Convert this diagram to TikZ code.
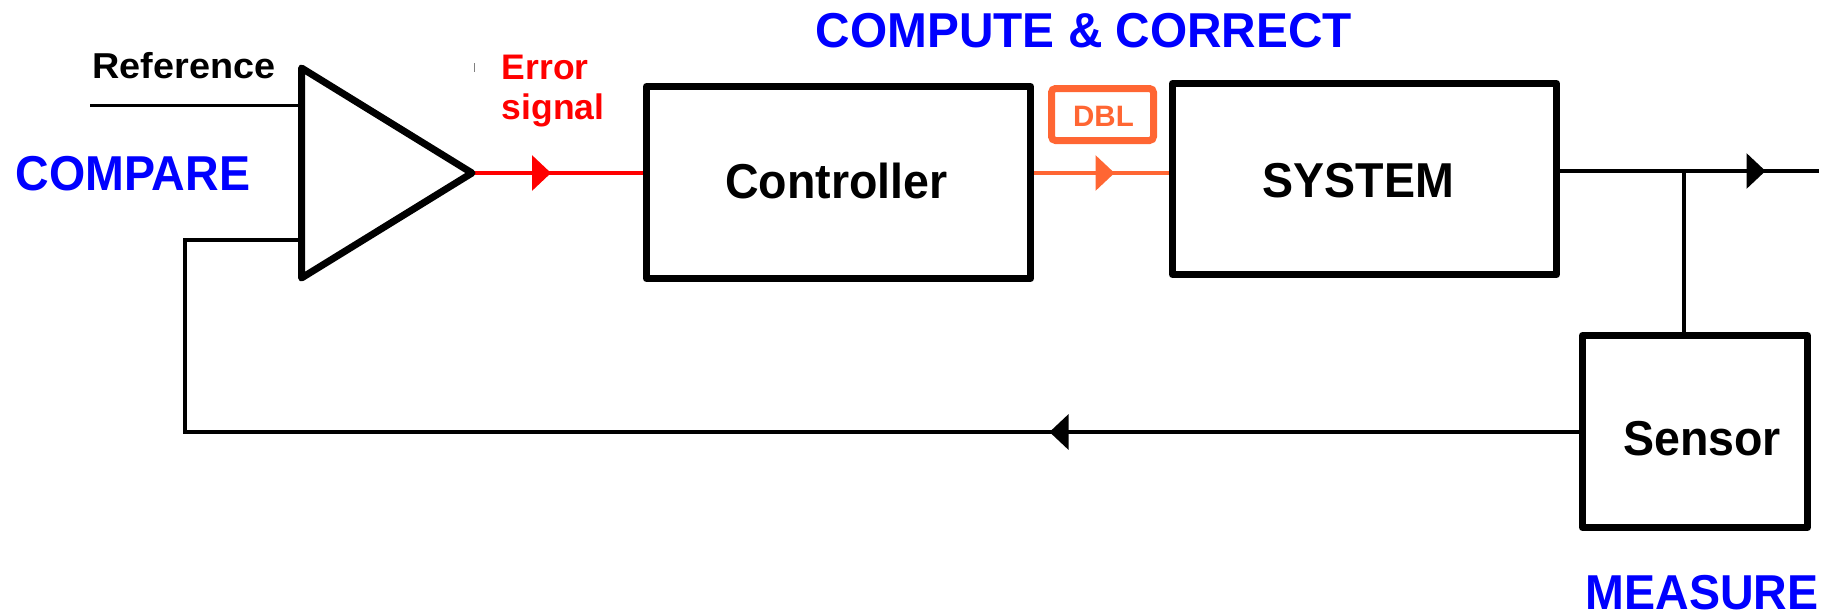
\documentclass[tikz,border=0pt]{standalone}
\usepackage{fontspec}
\setmainfont{Liberation Sans}
\newfontfamily\bigfont{Liberation Sans}[FakeStretch=0.95]
\newfontfamily\midfont{Liberation Sans}[FakeStretch=0.975]
\newfontfamily\reffont{Liberation Sans}[FakeStretch=1.05]
\usetikzlibrary{arrows.meta,decorations.markings}
\definecolor{dblorange}{RGB}{255,102,51}
\definecolor{lblblue}{RGB}{0,0,255}
\definecolor{errred}{RGB}{255,0,0}
\tikzset{
  blockbox/.style={draw=black, line width=7pt, line join=round, inner sep=0pt},
  thinline/.style={line width=3.2pt},
  bigtext/.style={font=\bigfont\bfseries\fontsize{49}{49}\selectfont, inner sep=0pt, anchor=base},
  bluetext/.style={bigtext, text=lblblue},
  errtext/.style={font=\bfseries\fontsize{35.5}{35.5}\selectfont, text=errred, inner sep=0pt, anchor=base west},
  midarrow/.style={postaction={decorate,decoration={markings,
      mark=at position #1 with {\arrow{Triangle[length=19pt,width=35pt]}}}}}
}
\begin{document}
\begin{tikzpicture}[x=1pt,y=-1pt]
\useasboundingbox (0,0) rectangle (1837,614);

% comparator triangle
\coordinate (tritop) at (301.5,68);
\coordinate (tribot) at (301.5,278);
\coordinate (triout) at (472,173);
\coordinate (triinA) at (301.5,105.5);
\coordinate (triinB) at (301.5,240);
\coordinate (refin) at (90,105.5);
\coordinate (fbA) at (185,432);
\coordinate (fbB) at (185,240);
\coordinate (outend) at (1819,171);
\coordinate (junc) at (1684,171);

% blocks
\node[blockbox, minimum width=384pt, minimum height=192pt] (ctrl) at (838.5,182.5) {};
\node[blockbox, minimum width=384pt, minimum height=191pt] (sys) at (1364.5,179) {};
\node[blockbox, minimum width=225pt, minimum height=192pt] (sensor) at (1695,431.5) {};
\node[draw=dblorange, line width=7pt, rounded corners=4pt, inner sep=0pt,
      minimum width=102pt, minimum height=52pt] (dbl) at (1102.5,114.5) {};

% connectors
\draw[thinline] (refin) -- (triinA);
\draw[thinline, midarrow=529.5pt] (sensor.west |- fbA) -- (fbA) -- (fbB) -- (triinB);
\draw[thinline, errred, midarrow=79pt] (triout) -- (ctrl.west |- triout);
\draw[thinline, dblorange, midarrow=80.5pt] (ctrl.east |- 0,173) -- (sys.west |- 0,173);
\draw[thinline, midarrow=205.5pt] (sys.east |- outend) -- (outend);
\draw[thinline] (junc) -- (junc |- sensor.north);
\draw[gray, line width=1.5pt] (474.5,63) -- (474.5,72);

\draw[line width=7pt, line join=round, fill=white] (tritop) -- (triout) -- (tribot) -- cycle;

% texts
\node[bigtext] (ctrltxt) at (836.5,198.5) {Controller};
\node[bigtext] (systxt) at (1358.5,197.5) {SYSTEM};
\node[bigtext] (sensortxt) at (1702,455.5) {Sensor};
\node[font=\bfseries\fontsize{29.5}{29.5}\selectfont, text=dblorange, inner sep=0pt, anchor=base] (dbltxt) at (1103.5,126) {DBL};
\node[font=\reffont\bfseries\fontsize{36}{36}\selectfont, inner sep=0pt, anchor=base] (reftxt) at (184,78.3) {Reference};
\node[errtext] (errtxt) at (501.7,79.3) {Error};
\node[errtext] (sigtxt) at (501.7,119) {signal};
\node[bluetext] (cmptxt) at (133,190) {COMPARE};
\node[bluetext, font=\midfont\bfseries\fontsize{49}{49}\selectfont] (cctxt) at (1084,47) {COMPUTE \& CORRECT};
\node[bluetext] (meastxt) at (1702,609.5) {MEASURE};
\end{tikzpicture}
\end{document}
